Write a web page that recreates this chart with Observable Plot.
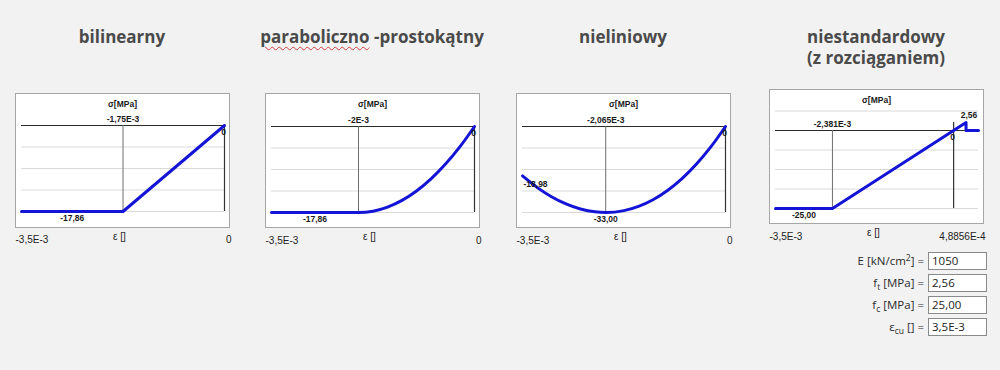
<!DOCTYPE html>
<html><head><meta charset="utf-8">
<script src="https://cdn.jsdelivr.net/npm/d3@7"></script>
<script src="https://cdn.jsdelivr.net/npm/@observablehq/plot@0.6"></script>
<style>
html,body{margin:0;padding:0;}
body{width:1000px;height:370px;background:#f2f2f2;position:relative;overflow:hidden;font-family:"Liberation Sans",Arial,sans-serif;}
.title{position:absolute;width:300px;text-align:center;font-family:"Open Sans",sans-serif;font-weight:700;font-size:17px;line-height:21px;color:#4a4a4a;top:26px;}
.wavy{text-decoration:underline wavy #d04040;text-decoration-thickness:1px;text-underline-offset:3px;}
.panel{position:absolute;}
.lab{position:absolute;left:760px;width:164px;height:18px;line-height:18px;text-align:right;font-family:"Open Sans",sans-serif;font-size:11.5px;color:#2a2a2a;white-space:nowrap;}
.lab sub{font-size:8.5px;vertical-align:-3px;line-height:0;}
.lab sup{font-size:8.5px;vertical-align:4px;line-height:0;}
.box{position:absolute;left:928px;width:54px;height:16px;line-height:16px;border:1px solid #8a8a8a;background:#fff;font-family:"Open Sans",sans-serif;font-size:11.5px;color:#222;padding-left:3px;box-sizing:content-box;}
</style>
</head><body>
<script>
// ---- Titles ----
const titles = ["bilinearny", "paraboliczno -prostokątny", "nieliniowy", "niestandardowy", "(z rozciąganiem)"];

// ---- Panel 1: bilinearny ----
const p1Eps = [-3.5e-3, -1.75e-3, 0];
const p1Sig = [-17.86, -17.86, 0];
const p1Grid = [0, -4.465, -8.93, -13.395, -17.86];
const p1Labels = {ec: -1.75e-3, ecText: "-1,75E-3", minText: "-17,86", minAt: -2.625e-3, left: "-3,5E-3", right: "0"};

// ---- Panel 2: paraboliczno-prostokątny ----
const p2Eps = [-3.5e-3, -2e-3, -1.75e-3, -1.5e-3, -1.25e-3, -1e-3, -0.75e-3, -0.5e-3, -0.25e-3, 0];
const p2Sig = [-17.86, -17.86, -17.58, -16.74, -15.35, -13.40, -10.88, -7.81, -4.19, 0];
const p2Grid = [0, -4.465, -8.93, -13.395, -17.86];
const p2Labels = {ec: -2e-3, ecText: "-2E-3", minText: "-17,86", minAt: -2.75e-3, left: "-3,5E-3", right: "0"};

// ---- Panel 3: nieliniowy ----
const p3Eps = [-3.5e-3, -3.25e-3, -3e-3, -2.75e-3, -2.5e-3, -2.25e-3, -2.065e-3, -1.75e-3, -1.5e-3, -1.25e-3, -1e-3, -0.75e-3, -0.5e-3, -0.25e-3, 0];
const p3Sig = [-18.98, -23.35, -26.94, -29.72, -31.66, -32.75, -33.00, -32.28, -30.66, -28.10, -24.55, -19.99, -14.41, -7.75, 0];
const p3Grid = [0, -8.25, -16.5, -24.75, -33];
const p3Labels = {ec: -2.065e-3, ecText: "-2,065E-3", minText: "-33,00", minAt: -2.065e-3, left: "-3,5E-3", right: "0", endText: "-18,98", endSig: -18.98};

// ---- Panel 4: niestandardowy (z rozciąganiem) ----
const p4Eps = [-3.5e-3, -2.381e-3, 2.438e-4, 2.438e-4, 4.8856e-4];
const p4Sig = [-25, -25, 2.56, 0, 0];
const p4Grid = [6.25, 0, -6.25, -12.5, -18.75, -25];
const p4Labels = {ec: -2.381e-3, ecText: "-2,381E-3", minText: "-25,00", minAt: -2.94e-3, left: "-3,5E-3", right: "4,8856E-4", peakEps: 2.438e-4, peakSig: 2.56, peakText: "2,56"};

// ---- Parameters ----
const paramLabels = ["E [kN/cm<sup>2</sup>] =", "f<sub>t</sub> [MPa] =", "f<sub>c</sub> [MPa] =", "ε<sub>cu</sub> [] ="];
const paramValues = ["1050", "2,56", "25,00", "3,5E-3"];

const BLUE = "#1414d6";

function panel(cfg) {
  const {eps, sig, grid, L, domainX, yMin, yRange, left, top, curve, vTop, yDomTop} = cfg;
  const xmin = domainX[0], xmax = domainX[1];
  const data = eps.map((e, i) => ({e, s: sig[i]}));
  const bold = {fontWeight: "bold", fontSize: 8.5, fill: "#1a1a1a"};
  const reg = {fontSize: 10, fill: "#222"};
  const marks = [
    Plot.frame({fill: "white", stroke: "#a6a6a6"}),
    Plot.ruleY(grid.filter(d => d !== 0), {x1: xmin, x2: xmax, stroke: "#dadada"}),
    Plot.ruleY([0], {x1: xmin, x2: xmax, stroke: "#2b2b2b", strokeWidth: 1.2}),
    Plot.ruleX([L.ec], {y1: 0, y2: yMin, stroke: "#6e6e6e"}),
    Plot.ruleX([0], {y1: vTop, y2: yMin, stroke: "#333", strokeWidth: 1.2}),
    Plot.line(data, {x: "e", y: "s", stroke: BLUE, strokeWidth: 3, curve}),
    Plot.text(["σ[MPa]"], {frameAnchor: "top", dy: 7, ...bold}),
    Plot.text([L.ecText], {x: L.ec, y: 0, dy: -6, ...bold}),
    Plot.text(["0"], {x: 0, y: 0, dx: -1, dy: 7, ...bold}),
    Plot.text([L.minText], {x: L.minAt, y: yMin, dy: 7, ...bold}),
    Plot.text([L.left], {x: xmin, y: yMin, dx: -6, dy: 28, textAnchor: "start", ...reg}),
    Plot.text(["ε []"], {frameAnchor: "bottom", dx: -3, dy: 12, ...reg}),
    Plot.text([L.right], {x: xmax, y: yMin, dx: 7, dy: 28, textAnchor: "end", ...reg})
  ];
  if (L.endText) marks.push(Plot.text([L.endText], {x: xmin, y: L.endSig, dx: 1, dy: 8, textAnchor: "start", ...bold}));
  if (L.peakText) marks.push(Plot.text([L.peakText], {x: L.peakEps, y: L.peakSig, dx: 3, dy: -7, ...bold}));
  const svg = Plot.plot({
    width: 228, height: 160,
    marginLeft: 0, marginTop: 0, marginRight: 14, marginBottom: 26,
    x: {domain: domainX, range: [6, 209], axis: null},
    y: {domain: [yMin, yDomTop], range: yRange, axis: null},
    style: {background: "transparent", fontFamily: "'Liberation Sans', Arial, sans-serif", overflow: "visible"},
    marks
  });
  const div = document.createElement("div");
  div.className = "panel";
  div.style.left = left + "px";
  div.style.top = top + "px";
  div.appendChild(svg);
  document.body.appendChild(div);
}

// titles
const titleCenters = [122, 372, 623, 876, 876];
const titleTops = [26, 26, 26, 26, 47];
titles.forEach((t, i) => {
  const d = document.createElement("div");
  d.className = "title";
  d.style.left = (titleCenters[i] - 150) + "px";
  d.style.top = titleTops[i] + "px";
  if (i === 1) {
    const [a, b] = t.split(" ");
    d.innerHTML = `<span class="wavy">${a}</span> ${b}`;
  } else d.textContent = t;
  document.body.appendChild(d);
});

panel({eps: p1Eps, sig: p1Sig, grid: p1Grid, L: p1Labels, domainX: [-3.5e-3, 0], yMin: -17.86, yDomTop: 0, yRange: [118, 32], left: 15, top: 93, curve: "linear", vTop: 0});
panel({eps: p2Eps, sig: p2Sig, grid: p2Grid, L: p2Labels, domainX: [-3.5e-3, 0], yMin: -17.86, yDomTop: 0, yRange: [119, 33], left: 265, top: 93, curve: "monotone-x", vTop: 0});
panel({eps: p3Eps, sig: p3Sig, grid: p3Grid, L: p3Labels, domainX: [-3.5e-3, 0], yMin: -33, yDomTop: 0, yRange: [119, 33], left: 516, top: 93, curve: "monotone-x", vTop: 0});
panel({eps: p4Eps, sig: p4Sig, grid: p4Grid, L: p4Labels, domainX: [-3.5e-3, 4.8856e-4], yMin: -25, yDomTop: 0, yRange: [119, 41], left: 769, top: 89, curve: "linear", vTop: 2.56});

// parameters
const rowTops = [252, 274, 296, 318];
paramLabels.forEach((l, i) => {
  const a = document.createElement("div");
  a.className = "lab"; a.style.top = rowTops[i] + "px"; a.innerHTML = l;
  document.body.appendChild(a);
  const b = document.createElement("div");
  b.className = "box"; b.style.top = rowTops[i] + "px"; b.textContent = paramValues[i];
  document.body.appendChild(b);
});
</script>
</body></html>
